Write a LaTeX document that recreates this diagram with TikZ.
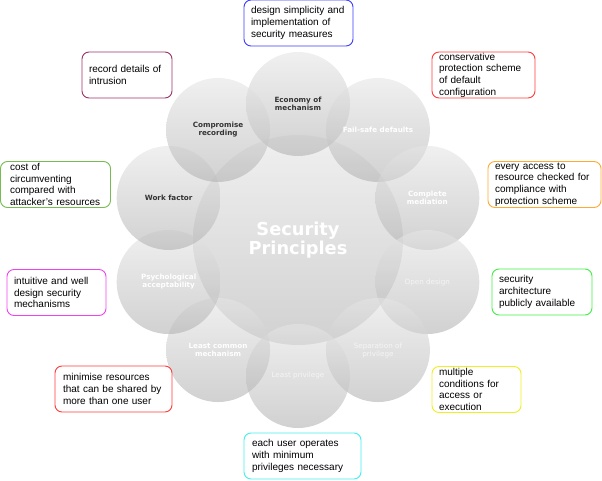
\documentclass[tikz,border=0pt]{standalone}
\usepackage{fontspec}
\setmainfont{Liberation Sans}
\newfontfamily\dejavu{DejaVu Sans}
\usetikzlibrary{calc}
\hyphenpenalty=10000
\exhyphenpenalty=10000
\definecolor{BoxBlue}{HTML}{3B3BFF}
\definecolor{BoxPlum}{HTML}{993366}
\definecolor{BoxRed}{HTML}{FF3B3B}
\definecolor{BoxOrange}{HTML}{FFAA33}
\definecolor{BoxOlive}{HTML}{77BB55}
\definecolor{BoxMagenta}{HTML}{EE44EE}
\definecolor{BoxGreen}{HTML}{44EE44}
\definecolor{BoxYellow}{HTML}{EEEE22}
\definecolor{BoxCyan}{HTML}{44EEEE}
\definecolor{PetalDark}{HTML}{333333}
\begin{document}
\begin{tikzpicture}[x=1pt, y=1pt,
    petal/.style={circle, minimum size=104pt, inner sep=0pt, top color=black!10, bottom color=black!30, fill opacity=0.6, text opacity=1, align=center, font=\dejavu\bfseries\fontsize{7.2}{8}\selectfont},
    core/.style={petal, minimum size=210pt, text=white, font=\dejavu\bfseries\fontsize{17.8}{19}\selectfont},
    darklabel/.style={text=PetalDark},
    lightlabel/.style={text=white},
    faintlabel/.style={text=white!96!black, font=\dejavu\fontsize{7.2}{8}\selectfont},
    notebox/.style={draw=#1, line width=0.9pt, rounded corners=7pt, fill=white, minimum height=46pt, inner xsep=0pt, inner ysep=0pt, align=left, font=\fontsize{10}{11.7}\selectfont}
  ]
  \useasboundingbox (0,0) rectangle (602,480);
  \node[core] (core) at (298,240) {Security\\Principles};
  \node[petal, darklabel] (econ) at ($(core)+(90:136)$) {Economy of\\mechanism};
  \node[petal, lightlabel] (failsafe) at ($(core)+(54:136)$) {Fail-safe defaults};
  \node[petal, lightlabel] (mediation) at ($(core)+(18:136)$) {Complete\\mediation};
  \node[petal, faintlabel] (opendesign) at ($(core)+(-18:136)$) {Open design};
  \node[petal, faintlabel] (separation) at ($(core)+(-54:136)$) {Separation of\\privilege};
  \node[petal, faintlabel] (leastpriv) at ($(core)+(-90:136)$) {Least privilege};
  \node[petal, lightlabel] (leastcommon) at ($(core)+(-126:136)$) {Least common\\mechanism};
  \node[petal, lightlabel] (psych) at ($(core)+(-162:136)$) {Psychological\\acceptability};
  \node[petal, darklabel] (workfactor) at ($(core)+(162:136)$) {Work factor};
  \node[petal, darklabel] (compromise) at ($(core)+(126:136)$) {Compromise\\recording};

  \node[notebox=BoxBlue, minimum width=109pt, text width=95pt] (econnote) at (298.5,457) {design simplicity and\\implementation of\\security measures};
  \node[notebox=BoxRed, minimum width=103pt, text width=89pt] (failsafenote) at (483.5,405) {conservative\\protection scheme\\of default\\configuration};
  \node[notebox=BoxOrange, minimum width=113pt, text width=99pt] (mediationnote) at (544.5,295.5) {every access to\\resource checked for\\compliance with\\protection scheme};
  \node[notebox=BoxGreen, minimum width=100pt, text width=86pt] (opendesignnote) at (542,188) {security\\architecture\\publicly available};
  \node[notebox=BoxYellow, minimum width=89pt, text width=75pt] (separationnote) at (476.5,90.5) {multiple\\conditions for\\access or\\execution};
  \node[notebox=BoxCyan, minimum width=117pt, text width=101pt] (leastprivnote) at (302.5,24) {each user operates\\with minimum\\privileges necessary};
  \node[notebox=BoxRed, minimum width=117pt, text width=101pt] (leastcommonnote) at (113.5,91) {minimise resources\\that can be shared by\\more than one user};
  \node[notebox=BoxMagenta, minimum width=99pt, text width=85pt] (psychnote) at (56.5,187.5) {intuitive and well\\design security\\mechanisms};
  \node[notebox=BoxOlive, minimum width=110pt, text width=91pt] (workfactornote) at (55.5,295.5) {cost of\\circumventing\\compared with\\attacker's resources};
  \node[notebox=BoxPlum, minimum width=90pt, text width=76pt] (compromisenote) at (127,405) {record details of\\intrusion};
\end{tikzpicture}
\end{document}
